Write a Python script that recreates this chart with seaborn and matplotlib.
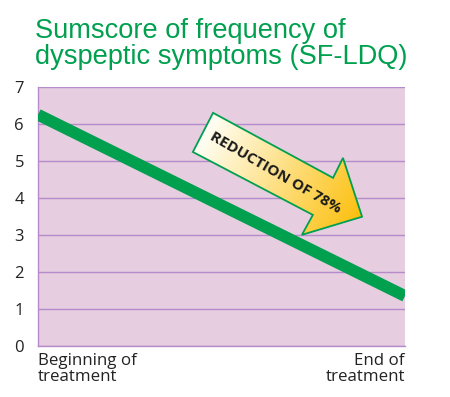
import numpy as np
import pandas as pd
import matplotlib
matplotlib.use("Agg")
import matplotlib.pyplot as plt
from matplotlib.patches import Polygon
import seaborn as sns

# ---- data ----
timepoints = ["Beginning of\ntreatment", "End of\ntreatment"]
positions = [0, 1]
sumscore = [6.25, 1.35]
yticks = [0, 1, 2, 3, 4, 5, 6, 7]
title = "Sumscore of frequency of\ndyspeptic symptoms (SF-LDQ)"
arrow_label = "REDUCTION OF 78%"

GREEN = "#00A04F"
PURPLE = "#B68BCB"
BG = "#E6CDE0"

sns.set_style("white")
plt.rcParams["font.family"] = ["DejaVu Sans"]

fig = plt.figure(figsize=(4.5, 3.97), dpi=100)
ax = fig.add_axes([0.0844, 0.1285, 0.8156, 0.6525])
ax.set_facecolor(BG)

df = pd.DataFrame({"x": positions, "y": sumscore})
sns.lineplot(data=df, x="x", y="y", ax=ax, color=GREEN, linewidth=8.5,
             solid_capstyle="butt", zorder=3)

ax.set_xlim(0, 1)
ax.set_ylim(0, 7)
ax.set_yticks(yticks)
ax.set_yticklabels([str(t) for t in yticks], fontsize=12, color="#222222",
                   family="Open Sans")
ax.set_xticks(positions)
labs = ax.set_xticklabels(timepoints, fontsize=12.2, color="#222222",
                          family="Open Sans", linespacing=1.0)
labs[0].set_horizontalalignment("left")
labs[1].set_horizontalalignment("right")
ax.set_xlabel("")
ax.set_ylabel("")
ax.grid(axis="y", color=PURPLE, linewidth=1.0, zorder=1)
ax.set_axisbelow(True)
ax.tick_params(axis="y", length=5, color=PURPLE, width=1.0, pad=5)
ax.tick_params(axis="x", length=0, pad=5)
for s in ["top", "right"]:
    ax.spines[s].set_visible(False)
for s in ["left", "bottom"]:
    ax.spines[s].set_color(PURPLE)
    ax.spines[s].set_linewidth(1.0)

# ---- gradient arrow annotation (axes-fraction coordinates) ----
poly = np.array([
    [0.477, 0.900],
    [0.804, 0.649],
    [0.831, 0.726],
    [0.883, 0.499],
    [0.719, 0.429],
    [0.749, 0.506],
    [0.422, 0.749],
])
patch = Polygon(poly, closed=True, transform=ax.transAxes, facecolor="none",
                edgecolor=GREEN, linewidth=1.3, zorder=6)
ax.add_patch(patch)

W, H = 367.0, 259.0
x0, x1 = poly[:, 0].min(), poly[:, 0].max()
y0, y1 = poly[:, 1].min(), poly[:, 1].max()
gx, gy = np.meshgrid(np.linspace(x0, x1, 200), np.linspace(y1, y0, 200))
tail = np.array([0.45 * W, 0.825 * H])
tip = np.array([0.883 * W, 0.499 * H])
d = tip - tail
t = ((gx * W - tail[0]) * d[0] + (gy * H - tail[1]) * d[1]) / (d @ d)
t = np.clip(t, 0, 1)
c0 = np.array([1.0, 1.0, 0.97])
c1 = np.array([0.99, 0.75, 0.05])
img = c0[None, None, :] * (1 - t[..., None]) + c1[None, None, :] * t[..., None]
im = ax.imshow(img, extent=[x0, x1, y0, y1], transform=ax.transAxes,
               aspect="auto", zorder=5, interpolation="bilinear")
clip = Polygon(poly, closed=True, transform=ax.transAxes)
im.set_clip_path(clip)
ax.set_xlim(0, 1)
ax.set_ylim(0, 7)

ax.text(0.648, 0.668, arrow_label, transform=ax.transAxes, rotation=-30,
        rotation_mode="anchor", ha="center", va="center", fontsize=11,
        fontweight="bold", color="#1a1a1a", family="Open Sans", zorder=7)

fig.text(0.078, 0.955, title, ha="left", va="top", fontsize=19.6,
         color=GREEN, family="Liberation Sans", linespacing=1.0)

fig.savefig("out.png", dpi=100, facecolor="white")
